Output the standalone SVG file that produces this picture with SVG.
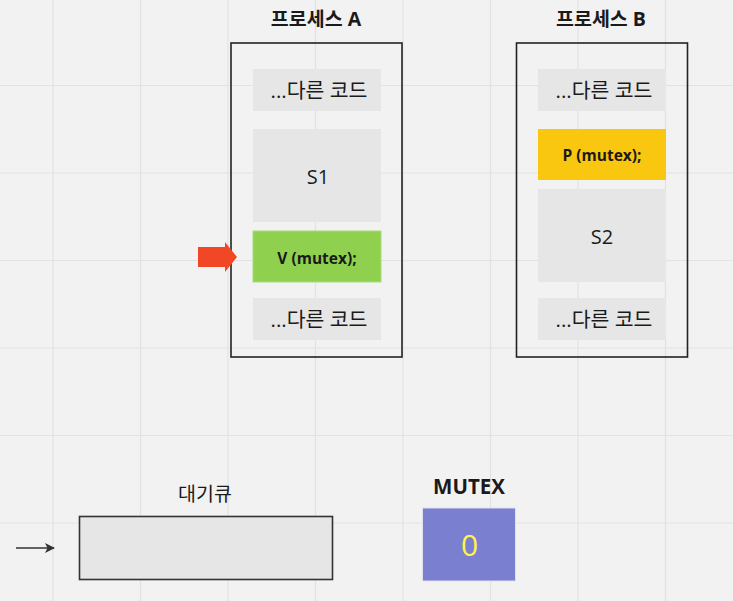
<svg xmlns="http://www.w3.org/2000/svg" width="733" height="601" viewBox="0 0 733 601">
<style>
.t{font-family:"Open Sans","Noto Sans CJK KR",sans-serif;fill:#1a1a1a;text-anchor:middle}
.b{font-weight:bold}
.grid line{stroke:#e2e2e2;stroke-width:1.2}
.frame{fill:none;stroke:#222;stroke-width:1.6}
.code{fill:#e6e6e6}
</style>
<defs>
<marker id="ah" markerWidth="12" markerHeight="12" refX="9" refY="6" orient="auto" markerUnits="userSpaceOnUse">
<path d="M0,1 L10,6 L0,11 L2.5,6 Z" fill="#333"/>
</marker>
</defs>
<rect width="733" height="601" fill="#f2f2f2"/>
<g class="grid">
<line x1="53" y1="0" x2="53" y2="601"/>
<line x1="140.5" y1="0" x2="140.5" y2="601"/>
<line x1="228" y1="0" x2="228" y2="601"/>
<line x1="315.5" y1="0" x2="315.5" y2="601"/>
<line x1="403" y1="0" x2="403" y2="601"/>
<line x1="490.5" y1="0" x2="490.5" y2="601"/>
<line x1="578" y1="0" x2="578" y2="601"/>
<line x1="665.5" y1="0" x2="665.5" y2="601"/>
<line x1="0" y1="85.5" x2="733" y2="85.5"/>
<line x1="0" y1="173" x2="733" y2="173"/>
<line x1="0" y1="260.5" x2="733" y2="260.5"/>
<line x1="0" y1="348" x2="733" y2="348"/>
<line x1="0" y1="435.5" x2="733" y2="435.5"/>
<line x1="0" y1="523" x2="733" y2="523"/>
</g>
<g id="processA">
<text class="t b" x="316" y="26" font-size="19.5">프로세스 A</text>
<rect class="frame" x="231" y="43" width="171" height="314"/>
</g>
<g id="a-code1"><rect class="code" x="253" y="69" width="128" height="42"/><text class="t" x="319" y="98" font-size="20.5">...다른 코드</text></g>
<g id="a-s1"><rect class="code" x="253" y="129" width="128" height="93"/><text class="t" x="318" y="184" font-size="20">S1</text></g>
<g id="a-v"><rect x="253" y="231" width="128" height="51" fill="#8fd14f" stroke="#a8dc78" stroke-width="1"/><text class="t b" x="317" y="264" font-size="15.5">V (mutex);</text></g>
<g id="a-code2"><rect class="code" x="253" y="298" width="128" height="42"/><text class="t" x="319" y="327" font-size="20.5">...다른 코드</text></g>
<g id="processB">
<text class="t b" x="601" y="26" font-size="19.5">프로세스 B</text>
<rect class="frame" x="516.5" y="43" width="171" height="314"/>
</g>
<g id="b-code1"><rect class="code" x="538" y="69" width="128" height="42"/><text class="t" x="604" y="98" font-size="20.5">...다른 코드</text></g>
<g id="b-p"><rect x="538" y="129" width="128" height="51" fill="#fac710"/><text class="t b" x="602" y="161" font-size="15.5">P (mutex);</text></g>
<g id="b-s2"><rect class="code" x="538" y="189" width="128" height="93"/><text class="t" x="602" y="244" font-size="20">S2</text></g>
<g id="b-code2"><rect class="code" x="538" y="298" width="128" height="42"/><text class="t" x="604" y="327" font-size="20.5">...다른 코드</text></g>
<g id="pointer"><polygon points="198,247 225,247 225,242 237,257 225,272 225,267 198,267" fill="#f24726"/></g>
<g id="queue">
<text class="t" x="205" y="501" font-size="19.5">대기큐</text>
<rect x="79.5" y="516.5" width="253" height="63" fill="#e6e6e6" stroke="#333" stroke-width="1.6"/>
</g>
<g id="mutex">
<text class="t b" x="469" y="494" font-size="20.5">MUTEX</text>
<rect x="422.5" y="508" width="93" height="73" fill="#7a80cf" stroke="#e0e0ee" stroke-width="1"/>
<text class="t" x="469.5" y="556" font-size="30" style="fill:#fff34d">0</text>
</g>
<g id="connectors">
<line x1="16" y1="548" x2="54" y2="548" stroke="#333" stroke-width="1.6" marker-end="url(#ah)"/>
</g>
</svg>
